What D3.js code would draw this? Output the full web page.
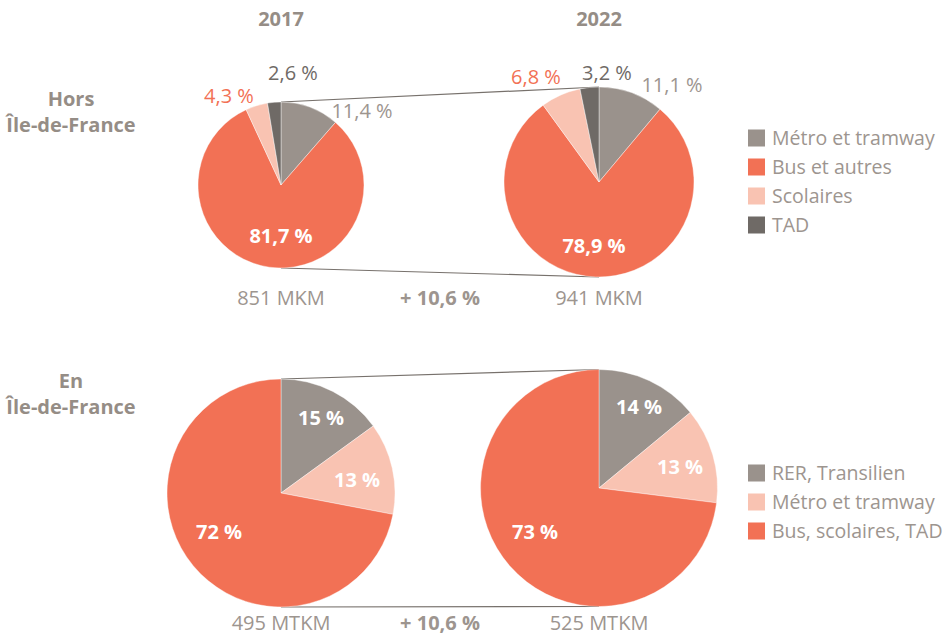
<!DOCTYPE html>
<html>
<head>
<meta charset="utf-8">
<script src="https://cdn.jsdelivr.net/npm/d3@7"></script>
<style>
  body { margin: 0; background: #fff; }
  svg { display: block; font-family: "Open Sans", "Noto Sans", sans-serif; }
</style>
</head>
<body>
<svg id="chart" width="947" height="636"></svg>
<script>
// Years and regions
const years = ["2017", "2022"];
const rowTitles = [["Hors", "Île-de-France"], ["En", "Île-de-France"]];

// Hors Île-de-France: parts of vehicle-km (%)
const horsCategories = ["Métro et tramway", "Bus et autres", "Scolaires", "TAD"];
const hors2017 = [11.4, 81.7, 4.3, 2.6];
const hors2022 = [11.1, 78.9, 6.8, 3.2];
const horsTotals = ["851 MKM", "941 MKM"];
const horsGrowth = "+ 10,6 %";

// En Île-de-France: parts of train-km (%)
const idfCategories = ["RER, Transilien", "Métro et tramway", "Bus, scolaires, TAD"];
const idf2017 = [15, 13, 72];
const idf2022 = [14, 13, 73];
const idfTotals = ["495 MTKM", "525 MTKM"];
const idfGrowth = "+ 10,6 %";

const C = { grey: "#9a928c", coral: "#f27155", light: "#f9c3b2", dark: "#6f6a66", text: "#9d958f", title: "#958d86" };
const horsColors = [C.grey, C.coral, C.light, C.dark];
const idfColors = [C.grey, C.light, C.coral];

const svg = d3.select("#chart");
const fmt = v => d3.format(".1f")(v).replace(".", ",") + " %";
const fmtInt = v => d3.format("d")(v) + " %";

const colX = [281, 599];
const LABEL = 20, BOLD = 20;

// Year headers
svg.selectAll("text.year").data(years).join("text")
  .attr("x", (d, i) => colX[i]).attr("y", 26)
  .attr("text-anchor", "middle").attr("font-size", BOLD).attr("font-weight", 700)
  .attr("fill", C.title).text(d => d);

// Row titles
[[106, 132], [388, 414]].forEach((ys, r) => {
  rowTitles[r].forEach((t, k) => {
    svg.append("text").attr("x", 71).attr("y", ys[k])
      .attr("text-anchor", "middle").attr("font-size", BOLD).attr("font-weight", 700)
      .attr("fill", C.title).text(t);
  });
});

const pie = d3.pie().sort(null).value(d => d);

function drawPie(cx, cy, r, values, colors) {
  const g = svg.append("g").attr("transform", `translate(${cx},${cy})`);
  const arcs = pie(values);
  g.selectAll("path").data(arcs).join("path")
    .attr("d", d3.arc().innerRadius(0).outerRadius(r))
    .attr("fill", (d, i) => colors[i])
    .attr("stroke", "#fff").attr("stroke-width", 0.4);
  return { g, arcs };
}

function connectors(y1a, y1b, y2a, y2b) {
  svg.append("line").attr("x1", colX[0]).attr("y1", y1a).attr("x2", colX[1]).attr("y2", y2a)
    .attr("stroke", "#77716c").attr("stroke-width", 1.2);
  svg.append("line").attr("x1", colX[0]).attr("y1", y1b).attr("x2", colX[1]).attr("y2", y2b)
    .attr("stroke", "#77716c").attr("stroke-width", 1.2);
}

// ---- Top row: Hors Île-de-France ----
const topR = [83, 95];
const topCy = [185, 182];
const topData = [hors2017, hors2022];
connectors(topCy[0] - topR[0], topCy[0] + topR[0], topCy[1] - topR[1], topCy[1] + topR[1]);

// Outside label positions (anchor offsets relative to centre)
const topOutside = [
  [{ dx: 81, dy: -67, fill: C.text }, null, { dx: -52, dy: -82, fill: C.coral }, { dx: 12, dy: -105, fill: C.dark }],
  [{ dx: 73, dy: -90, fill: C.text }, null, { dx: -63, dy: -98, fill: C.coral }, { dx: 8, dy: -102, fill: C.dark }]
];
const topInside = [[0, 58], [-5, 71]];

topData.forEach((vals, i) => {
  const { g, arcs } = drawPie(colX[i], topCy[i], topR[i], vals, horsColors);
  arcs.forEach((a, k) => {
    const o = topOutside[i][k];
    if (o) {
      g.append("text").attr("x", o.dx).attr("y", o.dy).attr("text-anchor", "middle")
        .attr("font-size", LABEL).attr("fill", o.fill).text(fmt(a.data));
    } else {
      g.append("text").attr("x", topInside[i][0]).attr("y", topInside[i][1]).attr("text-anchor", "middle")
        .attr("font-size", BOLD).attr("font-weight", 700).attr("fill", "#fff").text(fmt(a.data));
    }
  });
  svg.append("text").attr("x", colX[i]).attr("y", 305).attr("text-anchor", "middle")
    .attr("font-size", LABEL).attr("fill", C.text).text(horsTotals[i]);
});
svg.append("text").attr("x", 440).attr("y", 305).attr("text-anchor", "middle")
  .attr("font-size", BOLD).attr("font-weight", 700).attr("fill", C.text).text(horsGrowth);

// ---- Bottom row: En Île-de-France ----
const botR = [114, 118.5];
const botCy = [493, 488];
const botData = [idf2017, idf2022];
connectors(botCy[0] - botR[0], botCy[0] + botR[0], botCy[1] - botR[1], botCy[1] + botR[1]);

const botLabelPos = [
  [[40, -75], [76, -13], [-62, 39]],
  [[40, -81], [81, -21], [-64, 44]]
];
botData.forEach((vals, i) => {
  const { g, arcs } = drawPie(colX[i], botCy[i], botR[i], vals, idfColors);
  arcs.forEach((a, k) => {
    g.append("text").attr("x", botLabelPos[i][k][0]).attr("y", botLabelPos[i][k][1]).attr("dy", "0.35em")
      .attr("text-anchor", "middle").attr("font-size", BOLD).attr("font-weight", 700)
      .attr("fill", "#fff").text(fmtInt(a.data));
  });
  svg.append("text").attr("x", colX[i]).attr("y", 630).attr("text-anchor", "middle")
    .attr("font-size", LABEL).attr("fill", C.text).text(idfTotals[i]);
});
svg.append("text").attr("x", 440).attr("y", 630).attr("text-anchor", "middle")
  .attr("font-size", BOLD).attr("font-weight", 700).attr("fill", C.text).text(idfGrowth);

// ---- Legends ----
function legend(cats, colors, y0) {
  const g = svg.append("g").attr("transform", `translate(748,${y0})`);
  const items = g.selectAll("g").data(cats).join("g")
    .attr("transform", (d, i) => `translate(0,${i * 29})`);
  items.append("rect").attr("x", 0).attr("y", -8.5).attr("width", 17).attr("height", 17)
    .attr("fill", (d, i) => colors[i]);
  items.append("text").attr("x", 24).attr("y", 0).attr("dy", "0.35em")
    .attr("font-size", 19.5).attr("fill", C.text).text(d => d);
}
legend(horsCategories, horsColors, 138);
legend(idfCategories, idfColors, 473);
</script>
</body>
</html>
